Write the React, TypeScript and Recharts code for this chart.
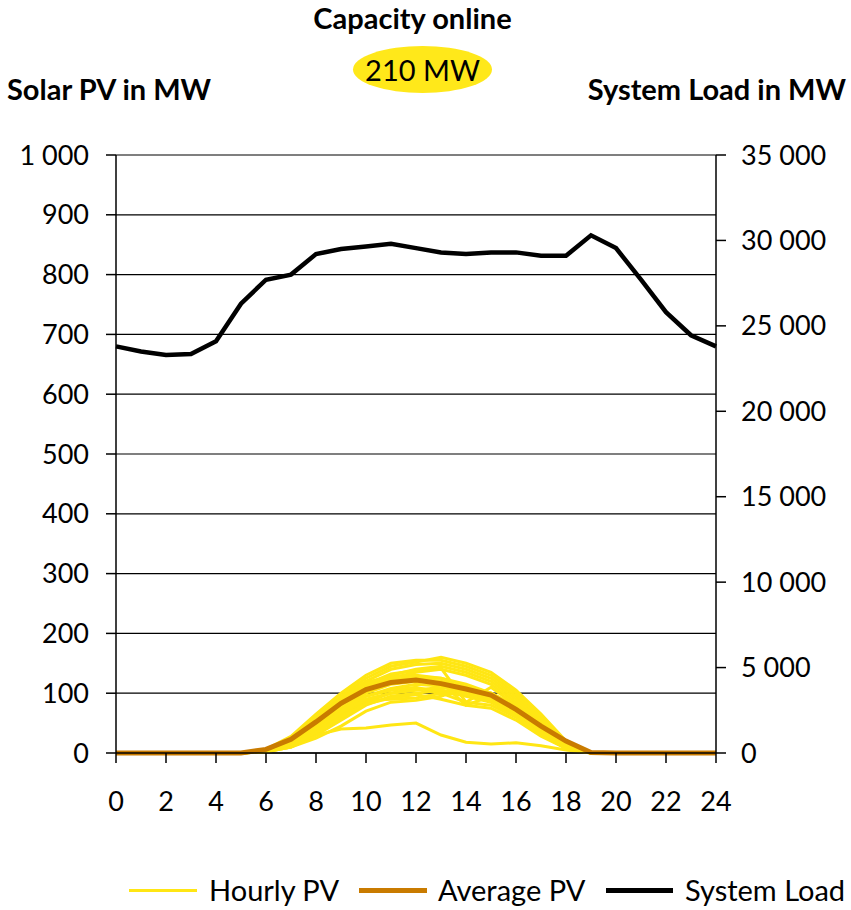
import { LineChart, Line, XAxis, YAxis, CartesianGrid } from "recharts";

const FONT = "Lato, 'Open Sans', sans-serif";
const YELLOW = "#FFE614";
const ORANGE = "#C97B00";

const hours = [0, 1, 2, 3, 4, 5, 6, 7, 8, 9, 10, 11, 12, 13, 14, 15, 16, 17, 18, 19, 20, 21, 22, 23, 24];

const systemLoad = [
  23800, 23500, 23300, 23350, 24100, 26300, 27700, 28000, 29200, 29500, 29650, 29800, 29550,
  29300, 29200, 29300, 29300, 29100, 29100, 30300, 29550, 27700, 25800, 24450, 23800,
];

const averagePv = [0, 0, 0, 0, 0, 0, 6, 23, 52, 83, 106, 118, 122, 116, 107, 97, 73, 45, 20, 1, 0, 0, 0, 0, 0];

// one row per day of the month
const hourlyPv = [
  [0, 0, 0, 0, 0, 0, 5, 25, 60, 95, 125, 145, 152, 160, 150, 135, 105, 65, 20, 0, 0, 0, 0, 0, 0],
  [0, 0, 0, 0, 0, 0, 6, 28, 65, 100, 130, 150, 155, 155, 145, 130, 100, 60, 18, 0, 0, 0, 0, 0, 0],
  [0, 0, 0, 0, 0, 0, 5, 22, 55, 90, 120, 140, 148, 150, 140, 125, 95, 55, 15, 0, 0, 0, 0, 0, 0],
  [0, 0, 0, 0, 0, 0, 4, 20, 50, 85, 115, 130, 140, 145, 135, 120, 90, 50, 15, 0, 0, 0, 0, 0, 0],
  [0, 0, 0, 0, 0, 0, 5, 25, 58, 92, 118, 128, 130, 125, 115, 100, 80, 45, 15, 0, 0, 0, 0, 0, 0],
  [0, 0, 0, 0, 0, 0, 4, 18, 45, 80, 105, 118, 125, 120, 110, 98, 75, 40, 12, 0, 0, 0, 0, 0, 0],
  [0, 0, 0, 0, 0, 0, 3, 15, 40, 75, 100, 115, 120, 118, 80, 95, 70, 42, 12, 0, 0, 0, 0, 0, 0],
  [0, 0, 0, 0, 0, 0, 4, 20, 48, 82, 108, 122, 128, 125, 112, 100, 72, 38, 10, 0, 0, 0, 0, 0, 0],
  [0, 0, 0, 0, 0, 0, 3, 15, 42, 70, 95, 108, 115, 112, 100, 88, 65, 35, 10, 0, 0, 0, 0, 0, 0],
  [0, 0, 0, 0, 0, 0, 3, 12, 35, 60, 85, 100, 108, 105, 95, 85, 62, 32, 8, 0, 0, 0, 0, 0, 0],
  [0, 0, 0, 0, 0, 0, 3, 15, 40, 72, 95, 105, 110, 100, 85, 80, 60, 30, 8, 0, 0, 0, 0, 0, 0],
  [0, 0, 0, 0, 0, 0, 2, 10, 30, 55, 80, 95, 100, 105, 100, 90, 68, 38, 10, 0, 0, 0, 0, 0, 0],
  [0, 0, 0, 0, 0, 0, 3, 12, 35, 65, 88, 90, 92, 100, 98, 95, 72, 40, 12, 0, 0, 0, 0, 0, 0],
  [0, 0, 0, 0, 0, 0, 2, 10, 25, 45, 70, 85, 88, 95, 110, 100, 75, 40, 10, 0, 0, 0, 0, 0, 0],
  [0, 0, 0, 0, 0, 0, 4, 18, 50, 88, 112, 125, 135, 140, 130, 115, 85, 48, 14, 0, 0, 0, 0, 0, 0],
  [0, 0, 0, 0, 0, 0, 4, 20, 52, 85, 110, 120, 122, 115, 105, 95, 70, 35, 10, 0, 0, 0, 0, 0, 0],
  [0, 0, 0, 0, 0, 0, 2, 10, 30, 40, 42, 47, 50, 30, 18, 15, 17, 12, 5, 0, 0, 0, 0, 0, 0],
  [0, 0, 0, 0, 0, 0, 3, 14, 38, 68, 90, 100, 105, 110, 105, 92, 70, 42, 12, 0, 0, 0, 0, 0, 0],
  [0, 0, 0, 0, 0, 0, 5, 22, 55, 90, 115, 132, 138, 142, 85, 110, 80, 45, 14, 0, 0, 0, 0, 0, 0],
  [0, 0, 0, 0, 0, 0, 3, 13, 35, 60, 82, 92, 98, 90, 80, 75, 55, 28, 8, 0, 0, 0, 0, 0, 0],
];

const xTicks = [0, 2, 4, 6, 8, 10, 12, 14, 16, 18, 20, 22, 24];
const leftTicks = [0, 100, 200, 300, 400, 500, 600, 700, 800, 900, 1000];
const rightTicks = [0, 5000, 10000, 15000, 20000, 25000, 30000, 35000];

const data = hours.map((h, i) => {
  const row: Record<string, number> = { hour: h, avg: averagePv[i], load: systemLoad[i] };
  hourlyPv.forEach((day, d) => {
    row[`d${d}`] = day[i];
  });
  return row;
});

const fmt = (v: number) => String(v).replace(/\B(?=(\d{3})+(?!\d))/g, " ");

const tickStyle = { fill: "#000", fontSize: 27, fontFamily: FONT };

export default function App() {
  return (
    <div style={{ position: "absolute", left: 0, top: 0, width: 851, height: 910, background: "#fff", fontFamily: FONT }}>
      <div style={{ position: "absolute", left: 0, width: 825, top: 0, textAlign: "center", fontWeight: 700, fontSize: 29 }}>
        Capacity online
      </div>
      <div
        style={{
          position: "absolute",
          left: 353,
          top: 46,
          width: 139,
          height: 47,
          borderRadius: "50%",
          background: "#FFE81A",
          display: "flex",
          alignItems: "center",
          justifyContent: "center",
          fontSize: 29,
        }}
      >
        210 MW
      </div>
      <div style={{ position: "absolute", left: 7, top: 71, fontWeight: 700, fontSize: 29 }}>Solar PV in MW</div>
      <div style={{ position: "absolute", right: 5, top: 71, fontWeight: 700, fontSize: 29 }}>System Load in MW</div>

      <LineChart width={851} height={910} data={data} margin={{ top: 155, right: 0, bottom: 97, left: 0 }}>
        <CartesianGrid yAxisId="left" vertical={false} stroke="#000" strokeWidth={1.2} />
        <XAxis
          dataKey="hour"
          type="number"
          domain={[0, 24]}
          ticks={xTicks}
          height={60}
          tickSize={10}
          tickMargin={29}
          axisLine={{ stroke: "#000", strokeWidth: 1.5 }}
          tickLine={{ stroke: "#000", strokeWidth: 1.5 }}
          tick={tickStyle}
        />
        <YAxis
          yAxisId="left"
          orientation="left"
          domain={[0, 1000]}
          ticks={leftTicks}
          width={116}
          tickSize={10}
          tickMargin={17}
          tickFormatter={fmt}
          axisLine={{ stroke: "#000", strokeWidth: 1.5 }}
          tickLine={{ stroke: "#000", strokeWidth: 1.5 }}
          tick={tickStyle}
        />
        <YAxis
          yAxisId="right"
          orientation="right"
          domain={[0, 35000]}
          ticks={rightTicks}
          width={135}
          tickSize={10}
          tickMargin={15}
          tickFormatter={fmt}
          axisLine={{ stroke: "#000", strokeWidth: 1.5 }}
          tickLine={{ stroke: "#000", strokeWidth: 1.5 }}
          tick={tickStyle}
        />
        {hourlyPv.map((_, d) => (
          <Line
            key={`d${d}`}
            yAxisId="left"
            dataKey={`d${d}`}
            type="linear"
            stroke={YELLOW}
            strokeWidth={3}
            dot={false}
            isAnimationActive={false}
          />
        ))}
        <Line yAxisId="left" dataKey="avg" type="linear" stroke={ORANGE} strokeWidth={5} dot={false} isAnimationActive={false} />
        <Line yAxisId="right" dataKey="load" type="linear" stroke="#000" strokeWidth={4.5} dot={false} isAnimationActive={false} />
      </LineChart>

      <div style={{ position: "absolute", top: 872, left: 0, width: 851, height: 36, fontSize: 29 }}>
        <div style={{ position: "absolute", left: 129, top: 17, width: 68, height: 3, background: YELLOW }} />
        <div style={{ position: "absolute", left: 209, top: 0 }}>Hourly PV</div>
        <div style={{ position: "absolute", left: 359, top: 16, width: 68, height: 5, background: ORANGE }} />
        <div style={{ position: "absolute", left: 438, top: 0 }}>Average PV</div>
        <div style={{ position: "absolute", left: 606, top: 16, width: 67, height: 5, background: "#000" }} />
        <div style={{ position: "absolute", left: 685, top: 0 }}>System Load</div>
      </div>
    </div>
  );
}
